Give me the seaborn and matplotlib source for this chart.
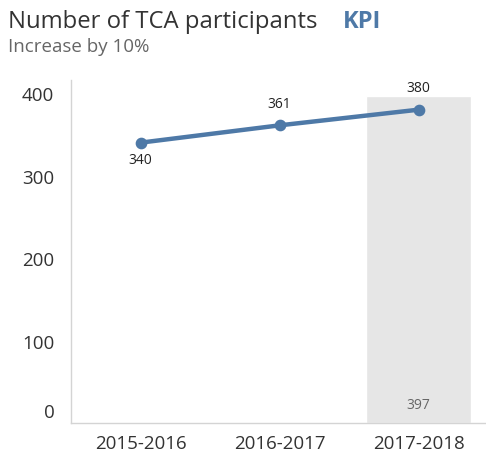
import matplotlib
matplotlib.use("Agg")
import matplotlib.pyplot as plt
import matplotlib.transforms as mtrans
import seaborn as sns

# ---- data ----
categories = ["2015-2016", "2016-2017", "2017-2018"]
participants = [340, 361, 380]
kpi_category = ["2017-2018"]
kpi_value = [397]
y_ticks = [0, 100, 200, 300, 400]
title_text = "Number of TCA participants"
kpi_text = "KPI"
subtitle_text = "Increase by 10%"

sns.set_theme(style="white")
FONT = "Open Sans"
plt.rcParams["font.family"] = [FONT, "DejaVu Sans"]

BLUE = "#4e79a7"
DARK = "#333333"

fig = plt.figure(figsize=(4.86, 4.56), dpi=100)
ax = fig.add_axes([71 / 486, 32 / 456, 417 / 486, 343 / 456])

sns.barplot(x=kpi_category, y=kpi_value, order=categories, color="#e6e6e6",
            width=0.76, saturation=1, ax=ax, zorder=1)
sns.pointplot(x=categories, y=participants, order=categories, color=BLUE,
              markers="o", markersize=6, linewidth=3.2, ax=ax, zorder=3)

ax.set_xlim(-0.5, 2.5)
ax.set_ylim(0, 416)
ax.set_yticks(y_ticks)
ax.set_yticklabels([str(t) for t in y_ticks])
ax.set_xlabel("")
ax.set_ylabel("")

ax.tick_params(axis="y", length=0, pad=12, labelsize=13.5, labelcolor=DARK)
ax.tick_params(axis="x", length=0, pad=8, labelsize=13.5, labelcolor=DARK)
ax.set_xticks([-0.5, 0.5, 1.5], minor=True)
ax.tick_params(axis="x", which="minor", length=5, color="#e6e6e6", width=1)

# shift the "0" label upward, as in the reference
for lab in ax.get_yticklabels():
    if lab.get_text() == "0":
        lab.set_transform(lab.get_transform() +
                          mtrans.ScaledTranslation(0, 13 / 100, fig.dpi_scale_trans))

for s in ["top", "right"]:
    ax.spines[s].set_visible(False)
for s in ["left", "bottom"]:
    ax.spines[s].set_color("#d4d4d4")
    ax.spines[s].set_linewidth(1)

# data labels
for i, v in enumerate(participants):
    if i == 0:
        ax.annotate(str(v), (i, v), xytext=(0, -12), textcoords="offset points",
                    ha="center", va="center", fontsize=10, color="#222222")
    else:
        ax.annotate(str(v), (i, v), xytext=(0, 16), textcoords="offset points",
                    ha="center", va="center", fontsize=10, color="#222222")
for c, v in zip(kpi_category, kpi_value):
    ax.annotate(str(v), (categories.index(c), 0), xytext=(0, 13),
                textcoords="offset points", ha="center", va="center",
                fontsize=10, color="#666666")

# titles
fig.text(8 / 486, 1 - 28 / 456, title_text, fontsize=17.2, color=DARK,
         ha="left", va="baseline")
fig.text(343 / 486, 1 - 28 / 456, kpi_text, fontsize=17, color=BLUE,
         fontweight="bold", ha="left", va="baseline")
fig.text(8 / 486, 1 - 52 / 456, subtitle_text, fontsize=13.5, color="#666666",
         ha="left", va="baseline")

fig.savefig("out.png", dpi=100)
